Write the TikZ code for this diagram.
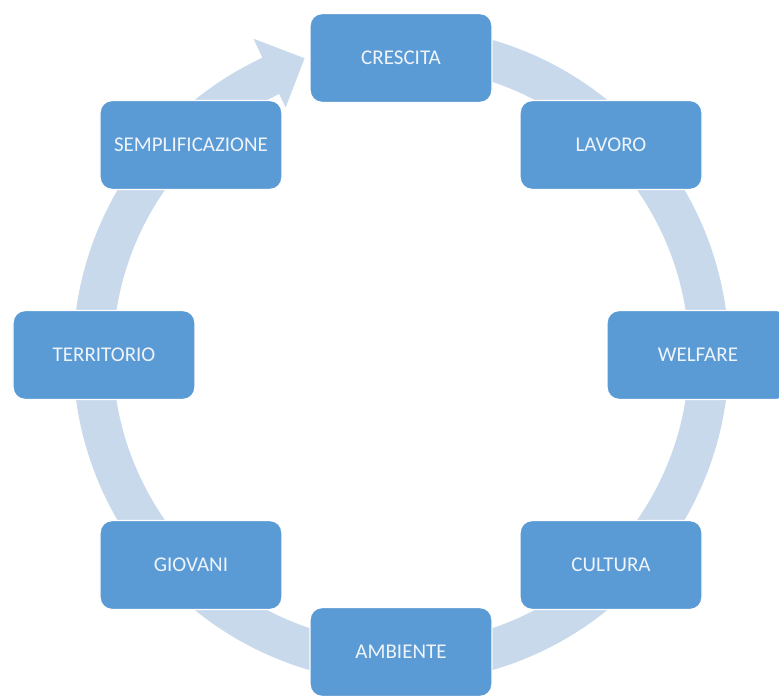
\documentclass[tikz,border=0pt]{standalone}
\usepackage{fontspec}
\setmainfont{Carlito}
\definecolor{bluscatola}{HTML}{5B9BD5}
\definecolor{bluanello}{HTML}{C8D9EC}
\definecolor{testochiaro}{HTML}{EEF4FA}

\tikzset{
  scatola/.style={draw=white, line width=0.7pt, fill=bluscatola, rounded corners=6pt,
    minimum width=91pt, minimum height=44.5pt, inner sep=0pt,
    text=testochiaro, font=\fontsize{10.5}{12}\selectfont},
  anello/.style={fill=bluanello}
}

\begin{document}
\begin{tikzpicture}[x=0.5pt,y=0.5pt]
\useasboundingbox (-401,-340) rectangle (378,355);
% anello con freccia
\fill [anello] (95:328) arc[start angle=95, end angle=-245, radius=328]
  -- (-245:349) -- (-252:312) -- (-245:273) -- (-245:288)
  arc[start angle=-245, end angle=95, radius=288] -- cycle;
% scatole
\node [scatola] (crescita) at (90:297) {CRESCITA};
\node [scatola] (lavoro) at (45:297) {LAVORO};
\node [scatola] (welfare) at (0:297) {WELFARE};
\node [scatola] (cultura) at (-45:297) {CULTURA};
\node [scatola] (ambiente) at (-90:297) {AMBIENTE};
\node [scatola] (giovani) at (-135:297) {GIOVANI};
\node [scatola] (territorio) at (180:297) {TERRITORIO};
\node [scatola] (semplificazione) at (135:297) {SEMPLIFICAZIONE};
\end{tikzpicture}
\end{document}
